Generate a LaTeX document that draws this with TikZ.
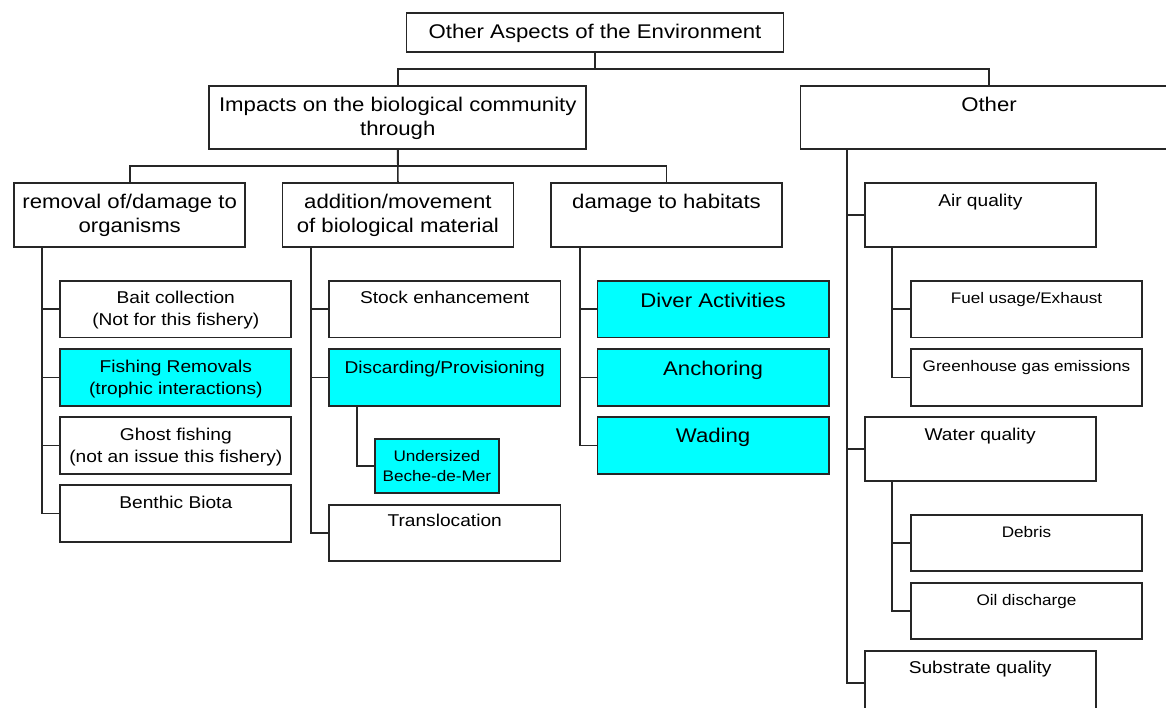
\documentclass[tikz,border=0pt]{standalone}
\usepackage{fontspec}
\setmainfont{Liberation Sans}[FakeStretch=1.12]
\usepackage{tikz}
\usetikzlibrary{positioning}
\definecolor{aqua}{HTML}{00FFFF}
\newcommand{\boxtxt}[4]{\parbox[t][#2pt][t]{#1pt}{\centering\rule{0pt}{#3pt}#4\par}}

\begin{document}
\begin{tikzpicture}[x=1pt, y=-1pt,
  box/.style={draw=black!85, line width=1.8pt, fill=white, inner sep=0pt, outer sep=0pt, anchor=north west},
  hot/.style={box, fill=aqua},
  big/.style={font=\fontsize{19.8}{24}\selectfont},
  mid/.style={font=\fontsize{17.1}{21.5}\selectfont},
  small/.style={font=\fontsize{15.3}{20}\selectfont},
  link/.style={draw=black!85, line width=1.7pt}]
\useasboundingbox (0,0) rectangle (1166,708);

% top levels
\node[box,big] (root) at (406.5,13.3) {\boxtxt{377}{38.4}{25}{Other Aspects of the Environment}};
\node[box,big] (impacts) at (209.3,86) {\boxtxt{377}{63}{26}{Impacts on the biological community\\through}};
\node[box,big] (other) at (800.5,86) {\boxtxt{377}{63}{25.7}{Other}};

\node[box,big] (removal) at (14.2,183.3) {\boxtxt{231}{64}{25.7}{removal of/damage to\\organisms}};
\node[box,big] (addition) at (282.4,183.3) {\boxtxt{231}{64}{25.7}{addition/movement\\of biological material}};
\node[box,big] (habitats) at (551,183.3) {\boxtxt{231}{64}{25.7}{damage to habitats}};

% removal of/damage to organisms
\node[box,mid] (bait) at (60.3,281) {\boxtxt{231}{56.5}{22.8}{Bait collection\\(Not for this fishery)}};
\node[hot,mid] (fishing) at (60.3,349.3) {\boxtxt{231}{56.5}{23.3}{Fishing Removals\\(trophic interactions)}};
\node[box,mid] (ghost) at (60.3,417.3) {\boxtxt{231}{56.5}{23.5}{Ghost fishing\\(not an issue this fishery)}};
\node[box,mid] (benthic) at (60.3,485.3) {\boxtxt{231}{56.5}{23}{Benthic Biota}};

% addition/movement
\node[box,mid] (stock) at (328.9,281) {\boxtxt{231.6}{56.5}{23}{Stock enhancement}};
\node[hot,mid] (discard) at (328.9,349.3) {\boxtxt{231.6}{56.5}{24}{Discarding/Provisioning}};
\node[hot,small] (undersized) at (374.8,439.3) {\boxtxt{124.2}{53.4}{21.7}{Undersized\\Beche-de-Mer}};
\node[box,mid] (transloc) at (328.9,504.7) {\boxtxt{231.6}{56.5}{22}{Translocation}};

% damage to habitats
\node[hot,big] (diver) at (597.5,281) {\boxtxt{231.2}{56.5}{26.7}{Diver Activities}};
\node[hot,big] (anchoring) at (597.5,349.3) {\boxtxt{231.2}{56.5}{25.7}{Anchoring}};
\node[hot,big] (wading) at (597.5,417.3) {\boxtxt{231.2}{56.5}{25.4}{Wading}};

% other
\node[box,mid] (air) at (864.8,183.3) {\boxtxt{231}{64}{23.4}{Air quality}};
\node[box,small] (fuel) at (911,281) {\boxtxt{231}{56.5}{22.3}{Fuel usage/Exhaust}};
\node[box,small] (greenhouse) at (911,349.3) {\boxtxt{231}{56.5}{21.7}{Greenhouse gas emissions}};
\node[box,mid] (water) at (864.6,417.3) {\boxtxt{231}{63.4}{22.7}{Water quality}};
\node[box,small] (debris) at (911,515) {\boxtxt{231}{56}{22.3}{Debris}};
\node[box,small] (oil) at (911,582.7) {\boxtxt{231}{56.3}{22.3}{Oil discharge}};
\node[box,mid] (substrate) at (864.6,650.7) {\boxtxt{231}{64}{22.6}{Substrate quality}};

% connectors
\draw[link] (root.south) -- ++(0,17.3) -| (impacts.north);
\draw[link] (root.south) -- ++(0,17.3) -| (other.north);
\draw[link] (impacts.south) -- ++(0,16.7) -| (removal.north);
\draw[link] (impacts.south) -- (addition.north);
\draw[link] (impacts.south) -- ++(0,16.7) -| (habitats.north);

\foreach \n in {bait,fishing,ghost,benthic}
  \draw[link] ([xshift=27.6pt]removal.south west) |- (\n.west);
\foreach \n in {stock,discard,transloc}
  \draw[link] ([xshift=28.4pt]addition.south west) |- (\n.west);
\draw[link] ([xshift=28.1pt]discard.south west) |- (undersized.west);
\foreach \n in {diver,anchoring,wading}
  \draw[link] ([xshift=28.8pt]habitats.south west) |- (\n.west);
\foreach \n in {air,water,substrate}
  \draw[link] ([xshift=46.3pt]other.south west) |- (\n.west);
\foreach \n in {fuel,greenhouse}
  \draw[link] ([xshift=27.4pt]air.south west) |- (\n.west);
\foreach \n in {debris,oil}
  \draw[link] ([xshift=27.4pt]water.south west) |- (\n.west);
\end{tikzpicture}
\end{document}
